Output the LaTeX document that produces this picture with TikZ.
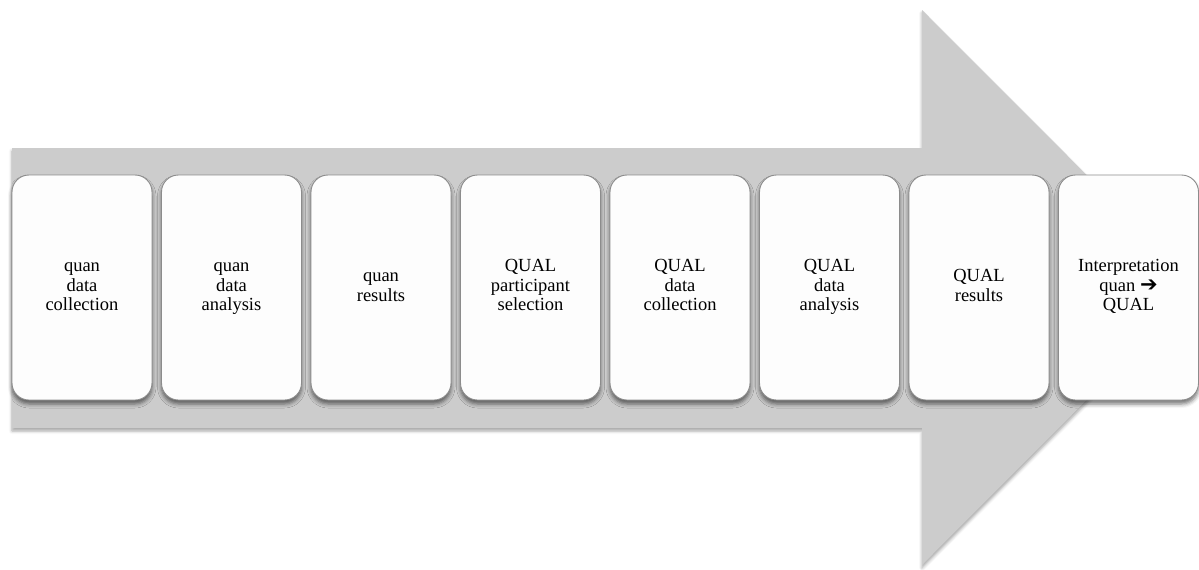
\documentclass[tikz,border=0pt]{standalone}
\usepackage{fontspec}
\setmainfont{Liberation Serif}
\newfontfamily\symfont{DejaVu Sans}
\usetikzlibrary{shadows.blur}
\definecolor{arrowgray}{HTML}{CCCCCC}
\definecolor{edgegray}{HTML}{8C8C8C}
\definecolor{cardfill}{HTML}{FDFDFD}
\tikzset{
  bigarrow/.style={fill=arrowgray, draw=none,
    blur shadow={shadow xshift=0pt, shadow yshift=-3pt, shadow blur radius=3pt, shadow opacity=35}},
  stage/.style={draw=edgegray, line width=0.9pt, fill=cardfill, rounded corners=17pt,
    minimum width=140pt, minimum height=225pt, inner sep=0pt, align=center,
    font=\fontsize{18.5}{19.5}\selectfont,
    blur shadow={shadow xshift=0pt, shadow yshift=-4pt, shadow blur radius=4pt, shadow opacity=55}},
}
% equal-height lines so every card centres its text the same way
\newcommand\cardline[1]{\strut#1}
\begin{document}
\begin{tikzpicture}[x=1pt,y=-1pt]
  \useasboundingbox (0,0) rectangle (1199,570);
  % the process arrow behind the stages
  \path[bigarrow] (12,148) -- (922,148) -- (922,10) -- (1199,287.5) -- (922,565)
    -- (922,428) -- (12,428) -- cycle;
  % stages
  \node[stage] (s1) at (82,287.5)    {\cardline{quan}\\\cardline{data}\\\cardline{collection}};
  \node[stage] (s2) at (231.5,287.5) {\cardline{quan}\\\cardline{data}\\\cardline{analysis}};
  \node[stage] (s3) at (381,287.5)   {\cardline{quan}\\\cardline{results}};
  \node[stage] (s4) at (530.5,287.5) {\cardline{QUAL}\\\cardline{participant}\\\cardline{selection}};
  \node[stage] (s5) at (680,287.5)   {\cardline{QUAL}\\\cardline{data}\\\cardline{collection}};
  \node[stage] (s6) at (829.5,287.5) {\cardline{QUAL}\\\cardline{data}\\\cardline{analysis}};
  \node[stage] (s7) at (979,287.5)   {\cardline{QUAL}\\\cardline{results}};
  \node[stage] (s8) at (1128.5,287.5) {\cardline{Interpretation}\\\cardline{quan \smash{{\symfont\fontsize{21}{19.5}\selectfont ➔}}}\\\cardline{QUAL}};
\end{tikzpicture}
\end{document}
